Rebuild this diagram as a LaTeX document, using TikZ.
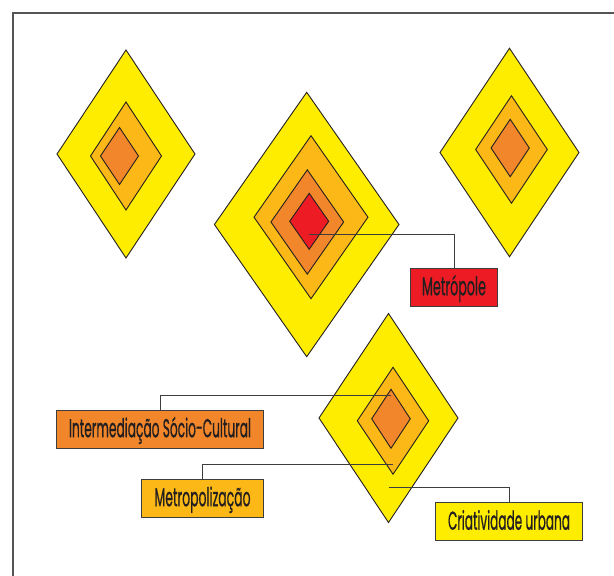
\documentclass[tikz,border=0pt]{standalone}
\usepackage{fontspec}
\usepackage{graphicx}
\usetikzlibrary{shapes.geometric}
\newfontfamily\lblfont[FakeBold=1]{Poppins}
\definecolor{yel}{HTML}{FFED00}
\definecolor{amb}{HTML}{FBB817}
\definecolor{org}{HTML}{F2862A}
\definecolor{rd}{HTML}{ED1C24}
\definecolor{ink}{HTML}{231F20}
\definecolor{edge}{HTML}{3D3D3D}
\definecolor{frame}{HTML}{555555}
% label text set to a given width and a fixed cap height
\newsavebox\lblbox
\newdimen\lblcap
\newcommand\lbltext[2]{%
  \sbox\lblbox{\lblfont\fontsize{20}{20}\selectfont
    \global\lblcap=\fontcharht\font`M #2}%
  \pgfmathsetmacro\lblsx{#1/\wd\lblbox}%
  \pgfmathsetmacro\lblsy{18pt/\lblcap}%
  \scalebox{\lblsx}[\lblsy]{\usebox\lblbox}}
\tikzset{
  dia/.style={diamond, draw=ink, line width=0.9pt, inner sep=0pt, outer sep=0pt},
  tag/.style={draw=edge, line width=1pt, inner sep=0pt, outer sep=0pt,
              minimum height=38.3pt, text height=20pt, text depth=4pt, text=ink},
  conn/.style={draw=edge, line width=0.9pt},
  framestyle/.style={draw=frame, line width=1.4pt}
}
\begin{document}
\begin{tikzpicture}[x=1pt,y=-1pt]
\useasboundingbox (0,0) rectangle (614,576);
% outer frame (top and left edges)
\coordinate (fa) at (13,576);
\coordinate (fb) at (13,13);
\coordinate (fc) at (614,13);
\draw[framestyle] (fa) -- (fb) -- (fc);

% upper-left diamond
\node[dia, fill=yel, minimum width=138pt, minimum height=208pt] (d1a) at (126,154) {};
\node[dia, fill=amb, minimum width=71pt, minimum height=108pt] (d1b) at (126,156) {};
\node[dia, fill=org, minimum width=38pt, minimum height=57pt] (d1c) at (119.5,156) {};

% central diamond
\node[dia, fill=yel, minimum width=184.6pt, minimum height=264.4pt] (d2a) at (306.7,224.5) {};
\node[dia, fill=amb, minimum width=114pt, minimum height=163pt] (d2b) at (311,217.2) {};
\node[dia, fill=org, minimum width=72.7pt, minimum height=104.3pt] (d2c) at (307.3,222) {};
\node[dia, fill=rd, minimum width=39pt, minimum height=56pt] (d2d) at (309.2,221.3) {};

% upper-right diamond
\node[dia, fill=yel, minimum width=139pt, minimum height=208.4pt] (d3a) at (509.5,152.5) {};
\node[dia, fill=amb, minimum width=71.6pt, minimum height=107.6pt] (d3b) at (511.5,149.5) {};
\node[dia, fill=org, minimum width=38.3pt, minimum height=57.4pt] (d3c) at (510.2,148) {};

% lower diamond
\node[dia, fill=yel, minimum width=139pt, minimum height=209pt] (d4a) at (388.5,418) {};
\node[dia, fill=amb, minimum width=71.4pt, minimum height=107pt] (d4b) at (393,420.8) {};
\node[dia, fill=org, minimum width=38.6pt, minimum height=59pt] (d4c) at (391,418.8) {};

% labels
\node[tag, fill=rd, minimum width=87pt] (metro) at (454,287.3) {\lbltext{64}{Metrópole}};
\node[tag, fill=org, minimum width=206.6pt] (inter) at (160,429.2) {\lbltext{182}{Intermediação Sócio-Cultural}};
\node[tag, fill=amb, minimum width=121.6pt] (metpz) at (202.6,498.2) {\lbltext{96}{Metropolização}};
\node[tag, fill=yel, minimum width=146.3pt] (criat) at (509,521.7) {\lbltext{122}{Criatividade urbana}};

% connector start points inside the diamonds
\coordinate (s1) at (309.3,234.3);
\coordinate (s2) at (391,395);
\coordinate (s3) at (392.7,464.3);
\coordinate (s4) at (388.7,487.7);

\draw[conn] (s1) -| (metro.north);
\draw[conn] (s2) -| (inter.north);
\draw[conn] (s3) -| (metpz.north);
\draw[conn] (s4) -| (criat.north);
\end{tikzpicture}
\end{document}
